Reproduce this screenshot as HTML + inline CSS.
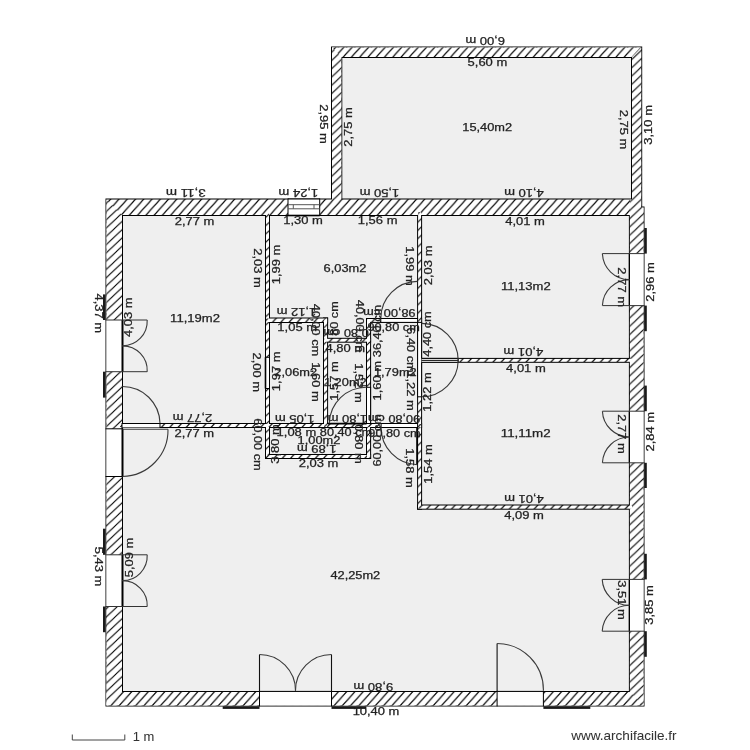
<!DOCTYPE html><html><head><meta charset="utf-8"><style>html,body{margin:0;padding:0;background:#fff;width:750px;height:750px;overflow:hidden}svg{display:block}text{font-family:"Liberation Sans",sans-serif;}</style></head><body>
<svg width="750" height="750" viewBox="0 0 750 750">
<defs><pattern id="hH" patternUnits="userSpaceOnUse" x="0.762" y="0" width="8.2650" height="9.1792"><rect width="8.2650" height="9.1792" fill="#fff"/><path d="M-1,10.2898 L9.265,-1.1106 M-1,1.1106 L1,-1.1106 M7.265000000000001,10.2898 L9.265,8.0686" stroke="#000" stroke-width="1.15"/></pattern><pattern id="hB" patternUnits="userSpaceOnUse" x="2.460" y="0" width="8.2650" height="9.1792"><rect width="8.2650" height="9.1792" fill="#fff"/><path d="M-1,10.2898 L9.265,-1.1106 M-1,1.1106 L1,-1.1106 M7.265000000000001,10.2898 L9.265,8.0686" stroke="#000" stroke-width="1.15"/></pattern><pattern id="hL" patternUnits="userSpaceOnUse" x="6.505" y="0" width="8.7211" height="8.2760"><rect width="8.7211" height="8.2760" fill="#fff"/><path d="M-1,9.2250 L9.721084316825245,-0.9490 M-1,0.9490 L1,-0.9490 M7.7210843168252445,9.2250 L9.721084316825245,7.3270" stroke="#000" stroke-width="1.15"/></pattern><pattern id="hR" patternUnits="userSpaceOnUse" x="5.492" y="0" width="8.7211" height="8.2760"><rect width="8.7211" height="8.2760" fill="#fff"/><path d="M-1,9.2250 L9.721084316825245,-0.9490 M-1,0.9490 L1,-0.9490 M7.7210843168252445,9.2250 L9.721084316825245,7.3270" stroke="#000" stroke-width="1.15"/></pattern><pattern id="hUL" patternUnits="userSpaceOnUse" x="2.990" y="0" width="8.7211" height="8.2760"><rect width="8.7211" height="8.2760" fill="#fff"/><path d="M-1,9.2250 L9.721084316825245,-0.9490 M-1,0.9490 L1,-0.9490 M7.7210843168252445,9.2250 L9.721084316825245,7.3270" stroke="#000" stroke-width="1.15"/></pattern><pattern id="hUT" patternUnits="userSpaceOnUse" x="6.169" y="0" width="8.2650" height="9.1792"><rect width="8.2650" height="9.1792" fill="#fff"/><path d="M-1,10.2898 L9.265,-1.1106 M-1,1.1106 L1,-1.1106 M7.265000000000001,10.2898 L9.265,8.0686" stroke="#000" stroke-width="1.15"/></pattern></defs>
<rect width="750" height="750" fill="#fff"/>
<rect x="122.00" y="215.00" width="507.90" height="476.90" fill="#efefef"/>
<rect x="341.30" y="57.00" width="290.70" height="142.50" fill="#efefef"/>
<path d="M106.5,199.5 L332.0,199.5 L332.0,47.4 L641.2,47.4 L641.2,207.6 L643.5,207.6 L643.5,705.4 L106.5,705.4 Z M122.0,215.0 L629.9,215.0 L629.9,691.9 L122.0,691.9 Z M341.3,57.0 L632.0,57.0 L632.0,199.5 L341.3,199.5 Z" fill="none" stroke="#000" stroke-width="2" fill-rule="evenodd"/>
<rect x="266.00" y="212.00" width="3.00" height="246.00" fill="none" stroke="#000" stroke-width="2"/>
<rect x="120.00" y="424.00" width="250.10" height="3.00" fill="none" stroke="#000" stroke-width="2"/>
<rect x="266.00" y="455.00" width="104.10" height="3.00" fill="none" stroke="#000" stroke-width="2"/>
<rect x="367.00" y="319.00" width="3.10" height="139.00" fill="none" stroke="#000" stroke-width="2"/>
<rect x="266.00" y="318.50" width="61.10" height="3.50" fill="none" stroke="#000" stroke-width="2"/>
<rect x="324.00" y="318.50" width="3.10" height="108.50" fill="none" stroke="#000" stroke-width="2"/>
<rect x="324.00" y="338.80" width="46.10" height="2.90" fill="none" stroke="#000" stroke-width="2"/>
<rect x="367.00" y="319.00" width="54.10" height="2.90" fill="none" stroke="#000" stroke-width="2"/>
<rect x="418.10" y="212.00" width="3.00" height="296.70" fill="none" stroke="#000" stroke-width="2"/>
<rect x="367.00" y="424.00" width="54.10" height="3.00" fill="none" stroke="#000" stroke-width="2"/>
<rect x="421.10" y="358.90" width="210.90" height="2.90" fill="none" stroke="#000" stroke-width="2"/>
<rect x="418.10" y="505.50" width="213.90" height="3.20" fill="none" stroke="#000" stroke-width="2"/>
<path d="M106.5,199.5 L332.0,199.5 L332.0,47.4 L641.2,47.4 L641.2,207.6 L643.5,207.6 L643.5,705.4 L106.5,705.4 Z M122.0,215.0 L629.9,215.0 L629.9,691.9 L122.0,691.9 Z M341.3,57.0 L632.0,57.0 L632.0,199.5 L341.3,199.5 Z" fill="url(#hH)" fill-rule="evenodd"/>
<path d="M106.5,691.9 L643.5,691.9 L643.5,705.4 L106.5,705.4 Z" fill="url(#hB)"/>
<path d="M106.5,199.5 L122,215 L122,691.9 L106.5,705.4 Z" fill="url(#hL)"/>
<path d="M643.5,705.4 L629.9,691.9 L629.9,199.5 L632,199.5 L632,57 L641.2,47.4 L641.2,207.6 L643.5,207.6 Z" fill="url(#hR)"/>
<path d="M332,47.4 L641.2,47.4 L632,57 L332,57 Z" fill="url(#hUT)"/>
<path d="M332,47.4 L341.3,57 L341.3,199.5 L332,199.5 Z" fill="url(#hUL)"/>
<rect x="266.00" y="212.00" width="3.00" height="246.00" fill="url(#hL)"/>
<rect x="120.00" y="424.00" width="250.10" height="3.00" fill="url(#hH)"/>
<rect x="266.00" y="455.00" width="104.10" height="3.00" fill="url(#hH)"/>
<rect x="367.00" y="319.00" width="3.10" height="139.00" fill="url(#hL)"/>
<rect x="266.00" y="318.50" width="61.10" height="3.50" fill="url(#hH)"/>
<rect x="324.00" y="318.50" width="3.10" height="108.50" fill="url(#hL)"/>
<rect x="324.00" y="338.80" width="46.10" height="2.90" fill="url(#hH)"/>
<rect x="367.00" y="319.00" width="54.10" height="2.90" fill="url(#hH)"/>
<rect x="418.10" y="212.00" width="3.00" height="296.70" fill="url(#hL)"/>
<rect x="367.00" y="424.00" width="54.10" height="3.00" fill="url(#hH)"/>
<rect x="421.10" y="358.90" width="210.90" height="2.90" fill="url(#hH)"/>
<rect x="418.10" y="505.50" width="213.90" height="3.20" fill="url(#hH)"/>
<rect x="106.00" y="320.00" width="16.50" height="51.70" fill="#fff"/>
<line x1="106.0" y1="320" x2="106.0" y2="371.7" stroke="#808080" stroke-width="1"/>
<line x1="122.5" y1="320" x2="122.5" y2="371.7" stroke="#000" stroke-width="1"/>
<line x1="122.5" y1="320" x2="122.5" y2="371.7" stroke="#000" stroke-width="2"/>
<line x1="105.5" y1="320" x2="147.2" y2="320" stroke="#333" stroke-width="1"/>
<line x1="105.5" y1="371.7" x2="147.2" y2="371.7" stroke="#333" stroke-width="1"/>
<path d="M147.2,320 A24.69999999999999,24.69999999999999 0 0 1 122.5,345.85" fill="none" stroke="#3a3a3a" stroke-width="1.1"/>
<path d="M122.5,345.85 A24.69999999999999,24.69999999999999 0 0 1 147.2,371.7" fill="none" stroke="#3a3a3a" stroke-width="1.1"/>
<rect x="103.00" y="294.40" width="2.60" height="25.60" fill="#1a1a1a"/>
<rect x="103.00" y="371.70" width="2.60" height="25.90" fill="#1a1a1a"/>
<rect x="106.00" y="554.80" width="16.50" height="51.70" fill="#fff"/>
<line x1="106.0" y1="554.8" x2="106.0" y2="606.5" stroke="#808080" stroke-width="1"/>
<line x1="122.5" y1="554.8" x2="122.5" y2="606.5" stroke="#000" stroke-width="1"/>
<line x1="122.5" y1="554.8" x2="122.5" y2="606.5" stroke="#000" stroke-width="2"/>
<line x1="105.5" y1="554.8" x2="147.2" y2="554.8" stroke="#333" stroke-width="1"/>
<line x1="105.5" y1="606.5" x2="147.2" y2="606.5" stroke="#333" stroke-width="1"/>
<path d="M147.2,554.8 A24.69999999999999,24.69999999999999 0 0 1 122.5,580.65" fill="none" stroke="#3a3a3a" stroke-width="1.1"/>
<path d="M122.5,580.65 A24.69999999999999,24.69999999999999 0 0 1 147.2,606.5" fill="none" stroke="#3a3a3a" stroke-width="1.1"/>
<rect x="103.00" y="528.70" width="2.60" height="26.10" fill="#1a1a1a"/>
<rect x="103.00" y="606.50" width="2.60" height="25.70" fill="#1a1a1a"/>
<rect x="629.40" y="253.60" width="14.60" height="52.00" fill="#fff"/>
<line x1="629.4" y1="253.6" x2="629.4" y2="305.6" stroke="#000" stroke-width="1"/>
<line x1="644.0" y1="253.6" x2="644.0" y2="305.6" stroke="#808080" stroke-width="1"/>
<line x1="629.4" y1="253.6" x2="629.4" y2="305.6" stroke="#000" stroke-width="1.2"/>
<line x1="602.4" y1="253.6" x2="644.5" y2="253.6" stroke="#333" stroke-width="1"/>
<line x1="602.4" y1="305.6" x2="644.5" y2="305.6" stroke="#333" stroke-width="1"/>
<path d="M602.4,253.6 A27.0,27.0 0 0 0 629.4,279.6" fill="none" stroke="#3a3a3a" stroke-width="1.1"/>
<path d="M629.4,279.6 A27.0,27.0 0 0 0 602.4,305.6" fill="none" stroke="#3a3a3a" stroke-width="1.1"/>
<rect x="644.20" y="228.00" width="2.60" height="25.60" fill="#1a1a1a"/>
<rect x="644.20" y="305.60" width="2.60" height="25.60" fill="#1a1a1a"/>
<rect x="629.40" y="411.20" width="14.60" height="51.60" fill="#fff"/>
<line x1="629.4" y1="411.2" x2="629.4" y2="462.8" stroke="#000" stroke-width="1"/>
<line x1="644.0" y1="411.2" x2="644.0" y2="462.8" stroke="#808080" stroke-width="1"/>
<line x1="629.4" y1="411.2" x2="629.4" y2="462.8" stroke="#000" stroke-width="1.2"/>
<line x1="602.4" y1="411.2" x2="644.5" y2="411.2" stroke="#333" stroke-width="1"/>
<line x1="602.4" y1="462.8" x2="644.5" y2="462.8" stroke="#333" stroke-width="1"/>
<path d="M602.4,411.2 A27.0,27.0 0 0 0 629.4,437.0" fill="none" stroke="#3a3a3a" stroke-width="1.1"/>
<path d="M629.4,437.0 A27.0,27.0 0 0 0 602.4,462.8" fill="none" stroke="#3a3a3a" stroke-width="1.1"/>
<rect x="644.20" y="385.60" width="2.60" height="25.60" fill="#1a1a1a"/>
<rect x="644.20" y="462.80" width="2.60" height="25.20" fill="#1a1a1a"/>
<rect x="629.40" y="579.40" width="14.60" height="51.80" fill="#fff"/>
<line x1="629.4" y1="579.4" x2="629.4" y2="631.2" stroke="#000" stroke-width="1"/>
<line x1="644.0" y1="579.4" x2="644.0" y2="631.2" stroke="#808080" stroke-width="1"/>
<line x1="629.4" y1="579.4" x2="629.4" y2="631.2" stroke="#000" stroke-width="1.2"/>
<line x1="602.2" y1="579.4" x2="644.5" y2="579.4" stroke="#333" stroke-width="1"/>
<line x1="602.2" y1="631.2" x2="644.5" y2="631.2" stroke="#333" stroke-width="1"/>
<path d="M602.2,579.4 A27.199999999999932,27.199999999999932 0 0 0 629.4,605.3" fill="none" stroke="#3a3a3a" stroke-width="1.1"/>
<path d="M629.4,605.3 A27.199999999999932,27.199999999999932 0 0 0 602.2,631.2" fill="none" stroke="#3a3a3a" stroke-width="1.1"/>
<rect x="644.20" y="553.80" width="2.60" height="25.60" fill="#1a1a1a"/>
<rect x="644.20" y="631.20" width="2.60" height="25.60" fill="#1a1a1a"/>
<rect x="288.00" y="199.00" width="31.70" height="16.50" fill="#fff"/>
<line x1="288" y1="199.0" x2="319.7" y2="199.0" stroke="#000" stroke-width="1"/>
<line x1="288" y1="215.5" x2="319.7" y2="215.5" stroke="#000" stroke-width="1"/>
<line x1="288" y1="198.5" x2="288" y2="216.0" stroke="#000" stroke-width="1"/>
<line x1="319.7" y1="198.5" x2="319.7" y2="216.0" stroke="#000" stroke-width="1"/>
<line x1="288" y1="215.5" x2="319.7" y2="215.5" stroke="#000" stroke-width="1.6"/>
<line x1="288" y1="204.7" x2="319.7" y2="204.7" stroke="#555" stroke-width="1"/>
<line x1="288" y1="208.8" x2="319.7" y2="208.8" stroke="#555" stroke-width="1"/>
<line x1="293.3" y1="204.7" x2="293.3" y2="208.8" stroke="#555" stroke-width="1"/>
<line x1="314.0" y1="204.7" x2="314.0" y2="208.8" stroke="#555" stroke-width="1"/>
<rect x="106.00" y="428.80" width="16.50" height="47.70" fill="#fff"/>
<line x1="106.0" y1="428.8" x2="106.0" y2="476.5" stroke="#808080" stroke-width="1"/>
<line x1="122.5" y1="428.8" x2="122.5" y2="476.5" stroke="#000" stroke-width="1"/>
<line x1="105.5" y1="428.8" x2="123.0" y2="428.8" stroke="#000" stroke-width="1"/>
<line x1="105.5" y1="476.5" x2="123.0" y2="476.5" stroke="#000" stroke-width="1"/>
<line x1="122.5" y1="428.8" x2="122.5" y2="476.5" stroke="#000" stroke-width="2"/>
<line x1="122.5" y1="429.2" x2="168" y2="429.2" stroke="#3a3a3a" stroke-width="1.1"/>
<path d="M168,429.2 A46.5,46.5 0 0 1 122.5,476.5" fill="none" stroke="#3a3a3a" stroke-width="1.1"/>
<rect x="122.00" y="423.50" width="38.00" height="4.00" fill="#fff"/>
<line x1="122.0" y1="423.5" x2="160" y2="423.5" stroke="#000" stroke-width="1"/>
<line x1="122.0" y1="427.5" x2="160" y2="427.5" stroke="#666" stroke-width="1"/>
<line x1="122.0" y1="423.0" x2="122.0" y2="428.0" stroke="#000" stroke-width="1"/>
<line x1="160" y1="423.0" x2="160" y2="428.0" stroke="#000" stroke-width="1"/>
<path d="M160,423.3 A37.6,37.6 0 0 0 122.5,386.5" fill="none" stroke="#3a3a3a" stroke-width="1.1"/>
<rect x="265.50" y="357.30" width="4.00" height="31.20" fill="#fff"/>
<line x1="265.5" y1="357.3" x2="265.5" y2="388.5" stroke="#000" stroke-width="1"/>
<line x1="269.5" y1="357.3" x2="269.5" y2="388.5" stroke="#000" stroke-width="1"/>
<line x1="265.0" y1="357.3" x2="270.0" y2="357.3" stroke="#000" stroke-width="1"/>
<line x1="265.0" y1="388.5" x2="270.0" y2="388.5" stroke="#000" stroke-width="1"/>
<line x1="265.5" y1="357.3" x2="265.5" y2="388.5" stroke="#000" stroke-width="1.6"/>
<rect x="366.50" y="387.30" width="4.10" height="36.20" fill="#fff"/>
<line x1="366.5" y1="387.3" x2="366.5" y2="423.5" stroke="#000" stroke-width="1"/>
<line x1="370.6" y1="387.3" x2="370.6" y2="423.5" stroke="#000" stroke-width="1"/>
<line x1="366.0" y1="387.3" x2="371.1" y2="387.3" stroke="#000" stroke-width="1"/>
<line x1="366.0" y1="423.5" x2="371.1" y2="423.5" stroke="#000" stroke-width="1"/>
<line x1="327.6" y1="423.6" x2="366.5" y2="423.6" stroke="#000" stroke-width="1.8"/>
<path d="M366.5,387.3 A37,37 0 0 0 329.3,423.3" fill="none" stroke="#3a3a3a" stroke-width="1.1"/>
<rect x="380.80" y="318.50" width="36.80" height="3.90" fill="#fff"/>
<line x1="380.8" y1="318.5" x2="417.6" y2="318.5" stroke="#000" stroke-width="1"/>
<line x1="380.8" y1="322.4" x2="417.6" y2="322.4" stroke="#000" stroke-width="1"/>
<line x1="380.8" y1="318.0" x2="380.8" y2="322.9" stroke="#000" stroke-width="1"/>
<line x1="417.6" y1="318.0" x2="417.6" y2="322.9" stroke="#000" stroke-width="1"/>
<path d="M380.8,318.4 A37,37 0 0 1 417.4,281.4" fill="none" stroke="#3a3a3a" stroke-width="1.1"/>
<rect x="381.10" y="423.50" width="36.50" height="4.00" fill="#fff"/>
<line x1="381.1" y1="423.5" x2="417.6" y2="423.5" stroke="#000" stroke-width="1"/>
<line x1="381.1" y1="427.5" x2="417.6" y2="427.5" stroke="#000" stroke-width="1"/>
<line x1="381.1" y1="423.0" x2="381.1" y2="428.0" stroke="#000" stroke-width="1"/>
<line x1="417.6" y1="423.0" x2="417.6" y2="428.0" stroke="#000" stroke-width="1"/>
<line x1="417.1" y1="427.5" x2="417.1" y2="464.7" stroke="#000" stroke-width="1.8"/>
<path d="M381.1,427.3 A37,37 0 0 0 417.4,464.7" fill="none" stroke="#3a3a3a" stroke-width="1.1"/>
<rect x="417.60" y="322.40" width="4.00" height="74.40" fill="#fff"/>
<line x1="417.6" y1="322.4" x2="417.6" y2="396.8" stroke="#000" stroke-width="1"/>
<line x1="421.6" y1="322.4" x2="421.6" y2="396.8" stroke="#000" stroke-width="1"/>
<line x1="417.1" y1="322.4" x2="422.1" y2="322.4" stroke="#000" stroke-width="1"/>
<line x1="417.1" y1="396.8" x2="422.1" y2="396.8" stroke="#000" stroke-width="1"/>
<rect x="421.60" y="358.40" width="36.60" height="3.90" fill="#fff"/>
<line x1="421.6" y1="358.4" x2="458.2" y2="358.4" stroke="#000" stroke-width="1"/>
<line x1="421.6" y1="362.3" x2="458.2" y2="362.3" stroke="#000" stroke-width="1"/>
<line x1="458.2" y1="357.9" x2="458.2" y2="362.8" stroke="#000" stroke-width="1"/>
<line x1="421.6" y1="360.35" x2="458.2" y2="360.35" stroke="#000" stroke-width="1"/>
<path d="M421.6,323.4 A37,37 0 0 1 458.2,360.4" fill="none" stroke="#3a3a3a" stroke-width="1.1"/>
<path d="M458.2,360.4 A37,37 0 0 1 421.6,396.8" fill="none" stroke="#3a3a3a" stroke-width="1.1"/>
<rect x="259.50" y="691.40" width="72.00" height="14.50" fill="#fff"/>
<line x1="259.5" y1="691.4" x2="331.5" y2="691.4" stroke="#000" stroke-width="1"/>
<line x1="259.5" y1="705.9" x2="331.5" y2="705.9" stroke="#808080" stroke-width="1"/>
<line x1="259.5" y1="690.9" x2="259.5" y2="706.4" stroke="#000" stroke-width="1"/>
<line x1="331.5" y1="690.9" x2="331.5" y2="706.4" stroke="#000" stroke-width="1"/>
<line x1="259.5" y1="654.5" x2="259.5" y2="691.4" stroke="#111" stroke-width="1.1"/>
<line x1="331.5" y1="654.5" x2="331.5" y2="691.4" stroke="#111" stroke-width="1.1"/>
<path d="M259.5,654.5 A36,36 0 0 1 295.5,690.8" fill="none" stroke="#3a3a3a" stroke-width="1.1"/>
<path d="M331.5,654.5 A36,36 0 0 0 295.5,690.8" fill="none" stroke="#3a3a3a" stroke-width="1.1"/>
<rect x="222.70" y="706.30" width="36.80" height="2.60" fill="#1a1a1a"/>
<rect x="331.50" y="706.30" width="34.90" height="2.60" fill="#1a1a1a"/>
<rect x="497.10" y="691.40" width="46.30" height="14.50" fill="#fff"/>
<line x1="497.1" y1="691.4" x2="543.4" y2="691.4" stroke="#000" stroke-width="1"/>
<line x1="497.1" y1="705.9" x2="543.4" y2="705.9" stroke="#808080" stroke-width="1"/>
<line x1="497.1" y1="690.9" x2="497.1" y2="706.4" stroke="#000" stroke-width="1"/>
<line x1="543.4" y1="690.9" x2="543.4" y2="706.4" stroke="#000" stroke-width="1"/>
<line x1="497.1" y1="643.5" x2="497.1" y2="691.4" stroke="#111" stroke-width="1.1"/>
<path d="M497.1,643.5 A46.5,46.5 0 0 1 543.4,690.8" fill="none" stroke="#3a3a3a" stroke-width="1.1"/>
<rect x="543.40" y="706.30" width="46.90" height="2.60" fill="#1a1a1a"/>
<path d="M72.3,734.5 L72.3,740 L124.8,740 L124.8,734.5" fill="none" stroke="#444" stroke-width="1"/>
<g font-size="10.2" fill="#222" stroke="#222" stroke-width="0.25" style="filter:grayscale(1)">
<text transform="translate(485.2,41.1) rotate(180)" x="0" y="3.6" text-anchor="middle" textLength="39.7" lengthAdjust="spacingAndGlyphs">6,00 m</text>
<text transform="translate(487.4,62.7)" x="0" y="3.6" text-anchor="middle" textLength="39.7" lengthAdjust="spacingAndGlyphs">5,60 m</text>
<text transform="translate(487.2,127.5)" x="0" y="3.6" text-anchor="middle" textLength="49.8" lengthAdjust="spacingAndGlyphs">15,40m2</text>
<text transform="translate(324,124) rotate(90)" x="0" y="3.6" text-anchor="middle" textLength="39.7" lengthAdjust="spacingAndGlyphs">2,95 m</text>
<text transform="translate(348.4,127) rotate(-90)" x="0" y="3.6" text-anchor="middle" textLength="39.7" lengthAdjust="spacingAndGlyphs">2,75 m</text>
<text transform="translate(623.9,129.5) rotate(90)" x="0" y="3.6" text-anchor="middle" textLength="39.7" lengthAdjust="spacingAndGlyphs">2,75 m</text>
<text transform="translate(647.9,124.9) rotate(-90)" x="0" y="3.6" text-anchor="middle" textLength="39.7" lengthAdjust="spacingAndGlyphs">3,10 m</text>
<text transform="translate(379.5,193.0) rotate(180)" x="0" y="3.6" text-anchor="middle" textLength="39.7" lengthAdjust="spacingAndGlyphs">1,50 m</text>
<text transform="translate(524,193.0) rotate(180)" x="0" y="3.6" text-anchor="middle" textLength="39.7" lengthAdjust="spacingAndGlyphs">4,10 m</text>
<text transform="translate(185.8,193.0) rotate(180)" x="0" y="3.6" text-anchor="middle" textLength="39.7" lengthAdjust="spacingAndGlyphs">3,11 m</text>
<text transform="translate(298.4,193.0) rotate(180)" x="0" y="3.6" text-anchor="middle" textLength="39.7" lengthAdjust="spacingAndGlyphs">1,24 m</text>
<text transform="translate(194.5,221)" x="0" y="3.6" text-anchor="middle" textLength="39.7" lengthAdjust="spacingAndGlyphs">2,77 m</text>
<text transform="translate(303,220.8)" x="0" y="3.6" text-anchor="middle" textLength="39.7" lengthAdjust="spacingAndGlyphs">1,30 m</text>
<text transform="translate(377.6,220.7)" x="0" y="3.6" text-anchor="middle" textLength="39.7" lengthAdjust="spacingAndGlyphs">1,56 m</text>
<text transform="translate(525,221)" x="0" y="3.6" text-anchor="middle" textLength="39.7" lengthAdjust="spacingAndGlyphs">4,01 m</text>
<text transform="translate(195,318.3)" x="0" y="3.6" text-anchor="middle" textLength="49.8" lengthAdjust="spacingAndGlyphs">11,19m2</text>
<text transform="translate(257.6,268) rotate(90)" x="0" y="3.6" text-anchor="middle" textLength="39.7" lengthAdjust="spacingAndGlyphs">2,03 m</text>
<text transform="translate(276.3,264.5) rotate(-90)" x="0" y="3.6" text-anchor="middle" textLength="39.7" lengthAdjust="spacingAndGlyphs">1,99 m</text>
<text transform="translate(98.4,313.3) rotate(90)" x="0" y="3.6" text-anchor="middle" textLength="39.7" lengthAdjust="spacingAndGlyphs">4,37 m</text>
<text transform="translate(128.8,317.2) rotate(-90)" x="0" y="3.6" text-anchor="middle" textLength="39.7" lengthAdjust="spacingAndGlyphs">4,03 m</text>
<text transform="translate(192.5,418.0) rotate(180)" x="0" y="3.6" text-anchor="middle" textLength="39.7" lengthAdjust="spacingAndGlyphs">2,77 m</text>
<text transform="translate(194.3,433.3)" x="0" y="3.6" text-anchor="middle" textLength="39.7" lengthAdjust="spacingAndGlyphs">2,77 m</text>
<text transform="translate(345,268.3)" x="0" y="3.6" text-anchor="middle" textLength="42.8" lengthAdjust="spacingAndGlyphs">6,03m2</text>
<text transform="translate(410,266) rotate(90)" x="0" y="3.6" text-anchor="middle" textLength="39.7" lengthAdjust="spacingAndGlyphs">1,99 m</text>
<text transform="translate(427.9,265.4) rotate(-90)" x="0" y="3.6" text-anchor="middle" textLength="39.7" lengthAdjust="spacingAndGlyphs">2,03 m</text>
<text transform="translate(525.8,286.1)" x="0" y="3.6" text-anchor="middle" textLength="49.8" lengthAdjust="spacingAndGlyphs">11,13m2</text>
<text transform="translate(621.6,287.2) rotate(90)" x="0" y="3.6" text-anchor="middle" textLength="39.7" lengthAdjust="spacingAndGlyphs">2,77 m</text>
<text transform="translate(650.4,282) rotate(-90)" x="0" y="3.6" text-anchor="middle" textLength="39.7" lengthAdjust="spacingAndGlyphs">2,96 m</text>
<text transform="translate(523.4,351.4) rotate(180)" x="0" y="3.6" text-anchor="middle" textLength="39.7" lengthAdjust="spacingAndGlyphs">4,01 m</text>
<text transform="translate(525.9,368.2)" x="0" y="3.6" text-anchor="middle" textLength="39.7" lengthAdjust="spacingAndGlyphs">4,01 m</text>
<text transform="translate(427.6,334) rotate(-90)" x="0" y="3.6" text-anchor="middle" textLength="45.4" lengthAdjust="spacingAndGlyphs">4,40 cm</text>
<text transform="translate(427.6,392) rotate(-90)" x="0" y="3.6" text-anchor="middle" textLength="39.7" lengthAdjust="spacingAndGlyphs">1,22 m</text>
<text transform="translate(525.7,433.3)" x="0" y="3.6" text-anchor="middle" textLength="49.8" lengthAdjust="spacingAndGlyphs">11,11m2</text>
<text transform="translate(621.2,434) rotate(90)" x="0" y="3.6" text-anchor="middle" textLength="39.7" lengthAdjust="spacingAndGlyphs">2,77 m</text>
<text transform="translate(650,431.7) rotate(-90)" x="0" y="3.6" text-anchor="middle" textLength="39.7" lengthAdjust="spacingAndGlyphs">2,84 m</text>
<text transform="translate(524,499.1) rotate(180)" x="0" y="3.6" text-anchor="middle" textLength="39.7" lengthAdjust="spacingAndGlyphs">4,01 m</text>
<text transform="translate(524,515.2)" x="0" y="3.6" text-anchor="middle" textLength="39.7" lengthAdjust="spacingAndGlyphs">4,09 m</text>
<text transform="translate(428.3,464) rotate(-90)" x="0" y="3.6" text-anchor="middle" textLength="39.7" lengthAdjust="spacingAndGlyphs">1,54 m</text>
<text transform="translate(409.5,468) rotate(90)" x="0" y="3.6" text-anchor="middle" textLength="39.7" lengthAdjust="spacingAndGlyphs">1,58 m</text>
<text transform="translate(355.3,575.6)" x="0" y="3.6" text-anchor="middle" textLength="49.8" lengthAdjust="spacingAndGlyphs">42,25m2</text>
<text transform="translate(98.7,566.5) rotate(90)" x="0" y="3.6" text-anchor="middle" textLength="39.7" lengthAdjust="spacingAndGlyphs">5,43 m</text>
<text transform="translate(128.9,557.5) rotate(-90)" x="0" y="3.6" text-anchor="middle" textLength="39.7" lengthAdjust="spacingAndGlyphs">5,09 m</text>
<text transform="translate(621.9,600) rotate(90)" x="0" y="3.6" text-anchor="middle" textLength="39.7" lengthAdjust="spacingAndGlyphs">3,51 m</text>
<text transform="translate(649.6,605) rotate(-90)" x="0" y="3.6" text-anchor="middle" textLength="39.7" lengthAdjust="spacingAndGlyphs">3,85 m</text>
<text transform="translate(373.3,686.2) rotate(180)" x="0" y="3.6" text-anchor="middle" textLength="39.7" lengthAdjust="spacingAndGlyphs">9,80 m</text>
<text transform="translate(376,711.3)" x="0" y="3.6" text-anchor="middle" textLength="46.7" lengthAdjust="spacingAndGlyphs">10,40 m</text>
<text transform="translate(296.5,311.8) rotate(180)" x="0" y="3.6" text-anchor="middle" textLength="39.7" lengthAdjust="spacingAndGlyphs">1,12 m</text>
<text transform="translate(297.2,327.4)" x="0" y="3.6" text-anchor="middle" textLength="39.7" lengthAdjust="spacingAndGlyphs">1,05 m</text>
<text transform="translate(315.7,330) rotate(90)" x="0" y="3.6" text-anchor="middle" textLength="52.4" lengthAdjust="spacingAndGlyphs">40,00 cm</text>
<text transform="translate(315.7,382) rotate(90)" x="0" y="3.6" text-anchor="middle" textLength="39.7" lengthAdjust="spacingAndGlyphs">1,60 m</text>
<text transform="translate(334.4,318.5) rotate(-90)" x="0" y="3.6" text-anchor="middle" textLength="34.4" lengthAdjust="spacingAndGlyphs">80 cm</text>
<text transform="translate(346,332.5) rotate(180)" x="0" y="3.6" text-anchor="middle" textLength="45.4" lengthAdjust="spacingAndGlyphs">0,80 cm</text>
<text transform="translate(359.4,326) rotate(90)" x="0" y="3.6" text-anchor="middle" textLength="52.4" lengthAdjust="spacingAndGlyphs">40,00 cm</text>
<text transform="translate(389.4,312.9) rotate(180)" x="0" y="3.6" text-anchor="middle" textLength="52.4" lengthAdjust="spacingAndGlyphs">98,00 cm</text>
<text transform="translate(393.6,327.8)" x="0" y="3.6" text-anchor="middle" textLength="52.4" lengthAdjust="spacingAndGlyphs">90,80 cm</text>
<text transform="translate(377.7,331) rotate(-90)" x="0" y="3.6" text-anchor="middle" textLength="52.4" lengthAdjust="spacingAndGlyphs">36,40 cm</text>
<text transform="translate(410.4,350) rotate(90)" x="0" y="3.6" text-anchor="middle" textLength="45.4" lengthAdjust="spacingAndGlyphs">6,40 cm</text>
<text transform="translate(410.4,391) rotate(90)" x="0" y="3.6" text-anchor="middle" textLength="39.7" lengthAdjust="spacingAndGlyphs">1,22 m</text>
<text transform="translate(345.3,348)" x="0" y="3.6" text-anchor="middle" textLength="39.7" lengthAdjust="spacingAndGlyphs">4,80 m</text>
<text transform="translate(334.3,381) rotate(-90)" x="0" y="3.6" text-anchor="middle" textLength="39.7" lengthAdjust="spacingAndGlyphs">1,57 m</text>
<text transform="translate(345.3,382)" x="0" y="3.6" text-anchor="middle" textLength="42.8" lengthAdjust="spacingAndGlyphs">1,20m2</text>
<text transform="translate(358.3,383) rotate(90)" x="0" y="3.6" text-anchor="middle" textLength="39.7" lengthAdjust="spacingAndGlyphs">1,52 m</text>
<text transform="translate(377.7,380.7) rotate(-90)" x="0" y="3.6" text-anchor="middle" textLength="39.7" lengthAdjust="spacingAndGlyphs">1,60 m</text>
<text transform="translate(395.3,372)" x="0" y="3.6" text-anchor="middle" textLength="42.8" lengthAdjust="spacingAndGlyphs">1,79m2</text>
<text transform="translate(257,372.3) rotate(90)" x="0" y="3.6" text-anchor="middle" textLength="39.7" lengthAdjust="spacingAndGlyphs">2,00 m</text>
<text transform="translate(276.3,371.3) rotate(-90)" x="0" y="3.6" text-anchor="middle" textLength="39.7" lengthAdjust="spacingAndGlyphs">1,97 m</text>
<text transform="translate(295.7,372.7)" x="0" y="3.6" text-anchor="middle" textLength="42.8" lengthAdjust="spacingAndGlyphs">2,06m2</text>
<text transform="translate(294.7,418.3) rotate(180)" x="0" y="3.6" text-anchor="middle" textLength="39.7" lengthAdjust="spacingAndGlyphs">1,05 m</text>
<text transform="translate(257.5,444.5) rotate(90)" x="0" y="3.6" text-anchor="middle" textLength="52.4" lengthAdjust="spacingAndGlyphs">60,00 cm</text>
<text transform="translate(275.6,444) rotate(-90)" x="0" y="3.6" text-anchor="middle" textLength="39.7" lengthAdjust="spacingAndGlyphs">3,80 m</text>
<text transform="translate(296.4,432.7)" x="0" y="3.6" text-anchor="middle" textLength="39.7" lengthAdjust="spacingAndGlyphs">1,08 m</text>
<text transform="translate(346,432.7)" x="0" y="3.6" text-anchor="middle" textLength="52.4" lengthAdjust="spacingAndGlyphs">80,40 cm</text>
<text transform="translate(319,440.2)" x="0" y="3.6" text-anchor="middle" textLength="42.8" lengthAdjust="spacingAndGlyphs">1,00m2</text>
<text transform="translate(316.7,448.7) rotate(180)" x="0" y="3.6" text-anchor="middle" textLength="39.7" lengthAdjust="spacingAndGlyphs">1,89 m</text>
<text transform="translate(318.5,463.7)" x="0" y="3.6" text-anchor="middle" textLength="39.7" lengthAdjust="spacingAndGlyphs">2,03 m</text>
<text transform="translate(347.5,418.3) rotate(180)" x="0" y="3.6" text-anchor="middle" textLength="39.7" lengthAdjust="spacingAndGlyphs">1,80 m</text>
<text transform="translate(358.7,444) rotate(90)" x="0" y="3.6" text-anchor="middle" textLength="39.7" lengthAdjust="spacingAndGlyphs">0,80 m</text>
<text transform="translate(376.9,440.4) rotate(-90)" x="0" y="3.6" text-anchor="middle" textLength="52.4" lengthAdjust="spacingAndGlyphs">60,00 cm</text>
<text transform="translate(394,418.3) rotate(180)" x="0" y="3.6" text-anchor="middle" textLength="52.4" lengthAdjust="spacingAndGlyphs">90,80 cm</text>
<text transform="translate(394.5,433)" x="0" y="3.6" text-anchor="middle" textLength="52.4" lengthAdjust="spacingAndGlyphs">90,80 cm</text>
</g>
<g style="filter:grayscale(1)" stroke="#333" stroke-width="0.05"><text x="132.8" y="741.4" font-size="12" fill="#333" textLength="21.6" lengthAdjust="spacingAndGlyphs">1 m</text>
<text x="571.2" y="739.7" font-size="13.2" fill="#333" textLength="105.4" lengthAdjust="spacingAndGlyphs">www.archifacile.fr</text></g>
</svg></body></html>
